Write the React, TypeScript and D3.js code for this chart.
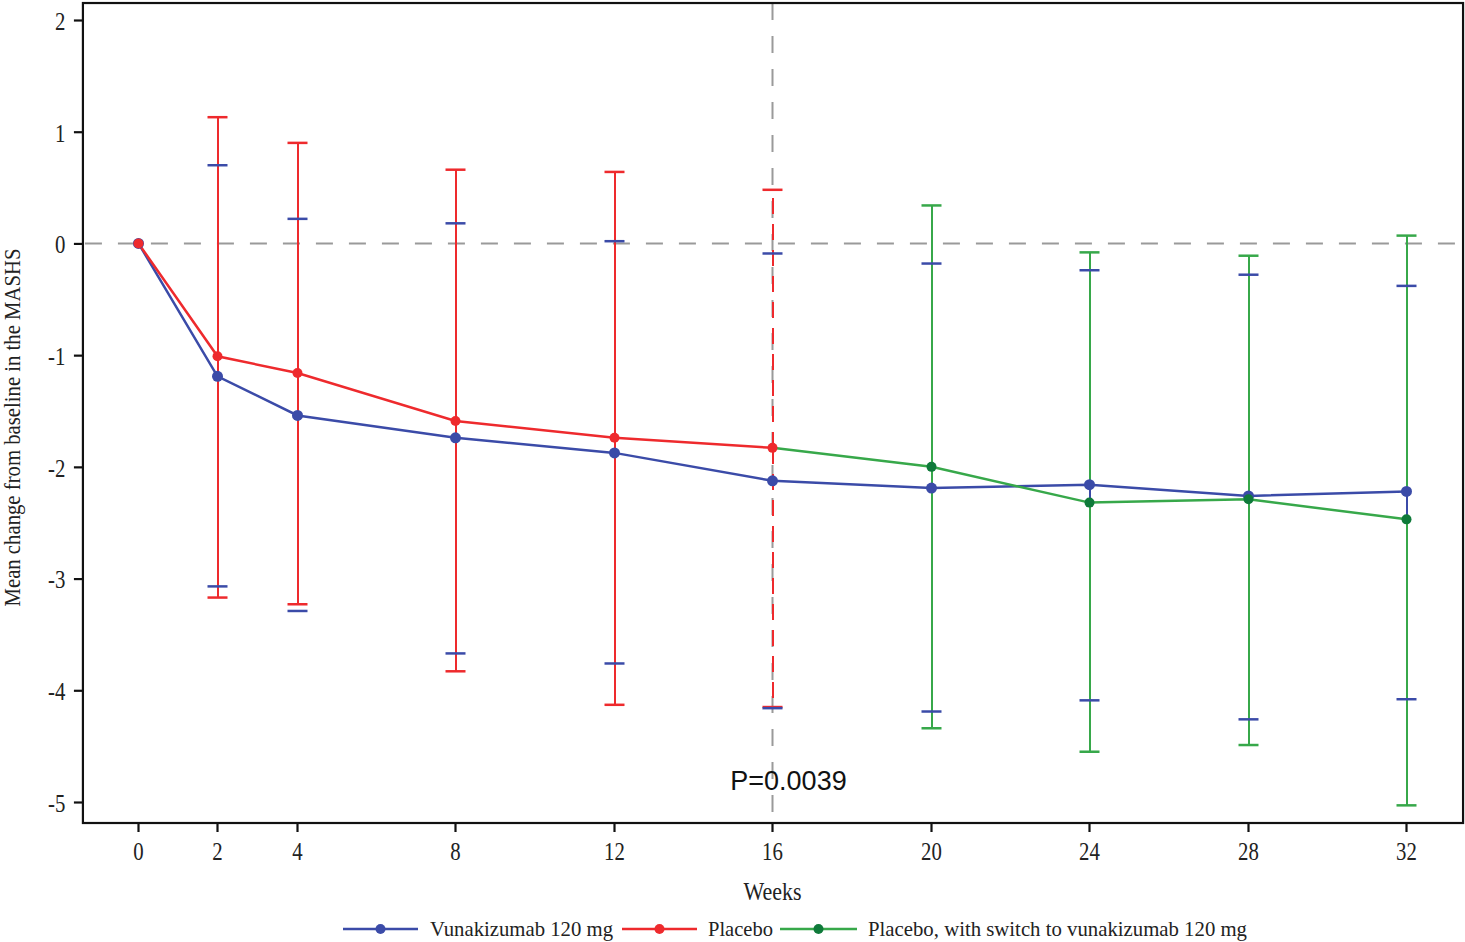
import { useRef, useEffect } from "react";
import * as d3 from "d3";

// weeks with observations
const weeks = [0, 2, 4, 8, 12, 16, 20, 24, 28, 32];
const redWeeks = [0, 2, 4, 8, 12, 16];
const greenWeeks = [16, 20, 24, 28, 32];

// vunakizumab 120 mg: mean, upper, lower
const blueMean = [0, -1.19, -1.54, -1.74, -1.875, -2.125, -2.19, -2.16, -2.26, -2.22];
const blueUpper = [null, 0.7, 0.22, 0.18, 0.02, -0.09, -0.18, -0.24, -0.28, -0.38];
const blueLower = [null, -3.07, -3.29, -3.67, -3.76, -4.16, -4.19, -4.09, -4.26, -4.08];

// placebo
const redMean = [0, -1.01, -1.16, -1.59, -1.74, -1.83];
const redUpper = [null, 1.13, 0.9, 0.66, 0.64, 0.48];
const redLower = [null, -3.17, -3.23, -3.83, -4.13, -4.15];

// placebo, with switch to vunakizumab 120 mg
const greenMean = [-1.83, -2.0, -2.32, -2.29, -2.47];
const greenUpper = [null, 0.34, -0.08, -0.11, 0.07];
const greenLower = [null, -4.34, -4.55, -4.49, -5.03];

const yTicks = [-5, -4, -3, -2, -1, 0, 1, 2];
const xTicks = weeks;
const legendNames = ["Vunakizumab 120 mg", "Placebo", "Placebo, with switch to vunakizumab 120 mg"];
const pLabel = "P=0.0039";
const switchWeek = 16;

const BLUE = "#3b4ba8";
const RED = "#ee2a2d";
const GREEN = "#37a84a";
const GREEN_DOT = "#0f7a3a";
const GREY = "#9a9a9a";

export default function App() {
    const ref = useRef<SVGSVGElement>(null);

    useEffect(() => {
        if (!ref.current) return;
        const width = 1465;
        const height = 942;

        const x = d3.scaleLinear().domain([0, 32]).range([138, 1406]);
        const y = d3.scaleLinear().domain([-5, 2]).range([802, 20]);
        const xs = (w: number) => Math.round(x(w)) + 0.5;

        const left = x(-1.39), right = x(33.44);
        const top = y(2.152), bottom = y(-5.188);

        const svg = d3.select(ref.current);
        svg.selectAll("*").remove();
        svg.attr("width", width).attr("height", height);
        svg.append("rect").attr("width", width).attr("height", height).attr("fill", "#fff");

        // reference lines
        svg.append("line")
            .attr("x1", left).attr("x2", right).attr("y1", y(0)).attr("y2", y(0))
            .attr("stroke", GREY).attr("stroke-width", 2).attr("stroke-dasharray", "17,16")
            .attr("stroke-dashoffset", -2);
        svg.append("line")
            .attr("x1", xs(switchWeek)).attr("x2", xs(switchWeek)).attr("y1", top).attr("y2", bottom)
            .attr("stroke", GREY).attr("stroke-width", 2).attr("stroke-dasharray", "17,16");

        type S = { wk: number[]; mean: number[]; up: (number | null)[]; lo: (number | null)[]; color: string; dot: string; r: number };
        const series: S[] = [
            { wk: weeks, mean: blueMean, up: blueUpper, lo: blueLower, color: BLUE, dot: BLUE, r: 5.5 },
            { wk: redWeeks, mean: redMean, up: redUpper, lo: redLower, color: RED, dot: RED, r: 5 },
            { wk: greenWeeks, mean: greenMean, up: greenUpper, lo: greenLower, color: GREEN, dot: GREEN_DOT, r: 5 },
        ];

        const g = svg.append("g");
        const whisker = (s: S, key: "up" | "lo") => {
            s.wk.forEach((w, i) => {
                const v = s[key][i];
                if (v == null) return;
                // blue whiskers under placebo bars are hidden in the original
                if (s.color === BLUE && redWeeks.includes(w)) return;
                const dashed = s.color === RED && w === switchWeek;
                g.append("line")
                    .attr("x1", xs(w)).attr("x2", xs(w))
                    .attr("y1", y(s.mean[i])).attr("y2", y(v))
                    .attr("stroke", s.color).attr("stroke-width", 2)
                    .attr("shape-rendering", "crispEdges")
                    .attr("stroke-dasharray", dashed ? "16,10" : null);
            });
        };
        // upper whiskers first, then lower
        series.forEach((s) => whisker(s, "up"));
        series.forEach((s) => whisker(s, "lo"));

        // caps
        [series[1], series[2], series[0]].forEach((s) => {
            s.wk.forEach((w, i) => {
                [s.up[i], s.lo[i]].forEach((v) => {
                    if (v == null) return;
                    g.append("line")
                        .attr("x1", xs(w) - 10).attr("x2", xs(w) + 10)
                        .attr("y1", y(v)).attr("y2", y(v))
                        .attr("stroke", s.color).attr("stroke-width", 2.5);
                });
            });
        });

        // mean lines + markers
        const line = d3.line<[number, number]>().x((d) => xs(d[0])).y((d) => y(d[1]));
        [series[0], series[2], series[1]].forEach((s) => {
            g.append("path")
                .attr("d", line(s.wk.map((w, i) => [w, s.mean[i]] as [number, number])))
                .attr("fill", "none").attr("stroke", s.color).attr("stroke-width", 2.5);
        });
        [series[0], series[2], series[1]].forEach((s) => {
            s.wk.forEach((w, i) => {
                if (s.color === GREEN && w === switchWeek) return;
                g.append("circle").attr("cx", xs(w)).attr("cy", y(s.mean[i])).attr("r", s.r).attr("fill", s.dot);
            });
        });

        // frame
        svg.append("rect")
            .attr("x", left).attr("y", top).attr("width", right - left).attr("height", bottom - top)
            .attr("fill", "none").attr("stroke", "#111").attr("stroke-width", 2.2);

        const fmt = (d: d3.NumberValue) => String(d);

        // axes
        const yAxis = svg.append("g")
            .attr("transform", `translate(${left},0)`)
            .call(d3.axisLeft(y).tickValues(yTicks).tickSize(9).tickPadding(13).tickFormat(fmt));
        yAxis.select(".domain").remove();
        yAxis.selectAll("line").attr("stroke", "#111").attr("stroke-width", 2.2);
        yAxis.selectAll("text")
            .attr("font-family", "'Liberation Serif', 'Times New Roman', serif")
            .attr("font-size", 26).attr("fill", "#222")
            .attr("dy", "0.36em")
            .attr("transform", "scale(0.8,1)");

        const xAxis = svg.append("g")
            .attr("transform", `translate(0,${bottom})`)
            .call(d3.axisBottom(x).tickValues(xTicks).tickSize(9).tickPadding(10).tickFormat(fmt));
        xAxis.select(".domain").remove();
        xAxis.selectAll(".tick").attr("transform", (d) => `translate(${xs(d as number)},0)`);
        xAxis.selectAll("line").attr("stroke", "#111").attr("stroke-width", 2.2);
        xAxis.selectAll("text")
            .attr("font-family", "'Liberation Serif', 'Times New Roman', serif")
            .attr("font-size", 26).attr("fill", "#222")
            .attr("transform", "scale(0.8,1)");

        // axis titles
        svg.append("text")
            .attr("x", xs(switchWeek)).attr("y", 900)
            .attr("text-anchor", "middle")
            .attr("font-family", "'Liberation Serif', serif").attr("font-size", 25).attr("fill", "#222")
            .attr("textLength", 58).attr("lengthAdjust", "spacingAndGlyphs")
            .text("Weeks");
        svg.append("text")
            .attr("transform", `translate(20,${(248 + 607) / 2}) rotate(-90)`)
            .attr("text-anchor", "middle")
            .attr("font-family", "'Liberation Serif', serif").attr("font-size", 24).attr("fill", "#222")
            .attr("textLength", 358).attr("lengthAdjust", "spacingAndGlyphs")
            .text("Mean change from baseline in the MASHS");

        // p value
        svg.append("text")
            .attr("x", xs(switchWeek) + 16).attr("y", 790)
            .attr("text-anchor", "middle")
            .attr("font-family", "'Liberation Sans', Arial, sans-serif").attr("font-size", 27).attr("fill", "#111")
            .text(pLabel);

        // legend
        const legendY = 929;
        const legendItems = [
            { x0: 343, x1: 418, tx: 430, tl: 183, color: BLUE, dot: BLUE },
            { x0: 622, x1: 697, tx: 708, tl: 65, color: RED, dot: RED },
            { x0: 780, x1: 857, tx: 868, tl: 379, color: GREEN, dot: GREEN_DOT },
        ];
        legendItems.forEach((it, i) => {
            svg.append("line").attr("x1", it.x0).attr("x2", it.x1).attr("y1", legendY).attr("y2", legendY)
                .attr("stroke", it.color).attr("stroke-width", 2.5);
            svg.append("circle").attr("cx", (it.x0 + it.x1) / 2).attr("cy", legendY).attr("r", 5).attr("fill", it.dot);
            svg.append("text")
                .attr("x", it.tx).attr("y", legendY + 7)
                .attr("font-family", "'Liberation Serif', serif").attr("font-size", 22).attr("fill", "#222")
                .attr("textLength", it.tl).attr("lengthAdjust", "spacingAndGlyphs")
                .text(legendNames[i]);
        });
    });

    return (
        <div style={{ position: "absolute", left: 0, top: 0 }}>
            <svg ref={ref} style={{ display: "block" }}></svg>
        </div>
    );
}
